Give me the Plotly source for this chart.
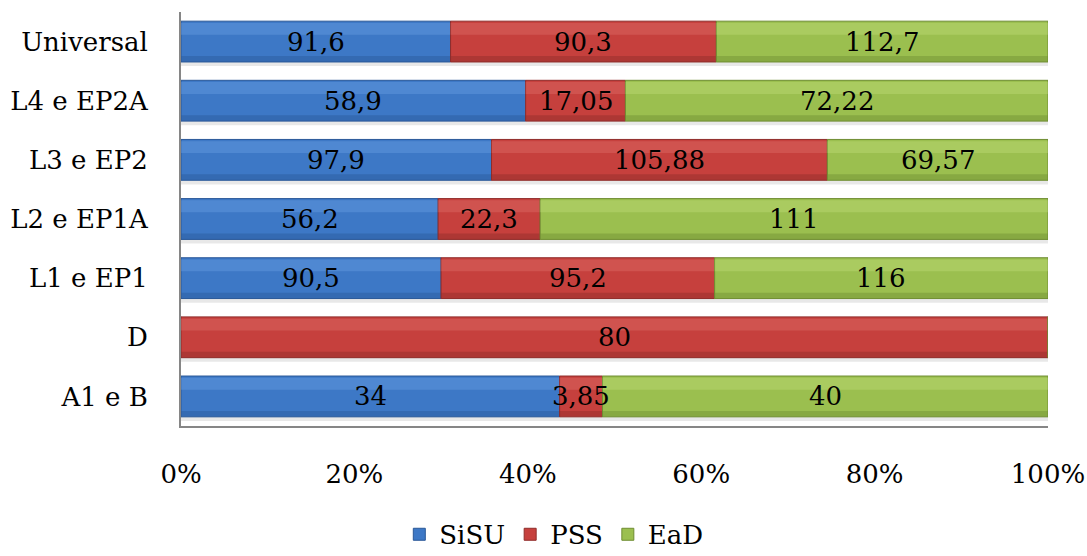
import plotly.graph_objects as go

# Categories listed bottom to top
categories = ["A1 e B", "D", "L1 e EP1", "L2 e EP1A", "L3 e EP2", "L4 e EP2A", "Universal"]
sisu = [34, 0, 90.5, 56.2, 97.9, 58.9, 91.6]
pss = [3.85, 80, 95.2, 22.3, 105.88, 17.05, 90.3]
ead = [40, 0, 116, 111, 69.57, 72.22, 112.7]

# name, values, body colour, top highlight, bottom shade
series = [
    ("SiSU", sisu, "#3d78c6", "#72a6e8", "#2a5898"),
    ("PSS", pss, "#c6403d", "#e27774", "#8f2c2a"),
    ("EaD", ead, "#9bbf4f", "#c5e282", "#6f8d32"),
]

totals = [a + b + c for a, b, c in zip(sisu, pss, ead)]

FONT = "DejaVu Serif"
FS = 26
BAR_W = 0.69
HALF = BAR_W / 2


def fmt(v):
    return f"{v:g}".replace(".", ",")


fig = go.Figure()

# soft shadow under each full-width bar
fig.add_trace(go.Bar(
    y=categories, x=[100] * len(categories), base=[0] * len(categories),
    orientation="h", width=0.07, offset=-HALF - 0.07,
    marker=dict(color="rgba(0,0,0,0.09)", line=dict(width=0)),
    showlegend=False, hoverinfo="skip",
))

starts = [0.0] * len(categories)
annotations = []
for name, vals, color, light, dark in series:
    share = [v / t * 100 for v, t in zip(vals, totals)]
    base = list(starts)
    # main segment
    fig.add_trace(go.Bar(
        y=categories, x=share, base=base, name=name, orientation="h",
        width=BAR_W, offset=-HALF,
        marker=dict(color=color, line=dict(color=dark, width=1)),
        hoverinfo="skip",
    ))
    # glossy upper band
    fig.add_trace(go.Bar(
        y=categories, x=share, base=base, orientation="h",
        width=0.2, offset=HALF - 0.23,
        marker=dict(color=light, opacity=0.35, line=dict(width=0)),
        showlegend=False, hoverinfo="skip",
    ))
    # darker lower band
    fig.add_trace(go.Bar(
        y=categories, x=share, base=base, orientation="h",
        width=0.1, offset=-HALF,
        marker=dict(color=dark, opacity=0.45, line=dict(width=0)),
        showlegend=False, hoverinfo="skip",
    ))
    # value labels centred in each segment
    for i, (cat, v, s) in enumerate(zip(categories, vals, share)):
        if v > 0:
            annotations.append(dict(
                x=starts[i] + s / 2, y=cat, xref="x", yref="y",
                text=fmt(v), showarrow=False,
                font=dict(family=FONT, size=FS, color="black"),
            ))
        starts[i] += s

fig.update_layout(
    barmode="overlay",
    width=1087,
    height=556,
    margin=dict(l=181, r=39, t=12, b=130, autoexpand=False),
    paper_bgcolor="white",
    plot_bgcolor="white",
    font=dict(family=FONT, size=FS, color="black"),
    annotations=annotations,
    showlegend=True,
    legend=dict(
        orientation="h",
        x=0.43,
        xanchor="center",
        y=-0.205,
        yanchor="top",
        font=dict(family=FONT, size=FS, color="black"),
        itemwidth=30,
        tracegroupgap=0,
        traceorder="normal",
    ),
    xaxis=dict(
        range=[0, 100],
        tickvals=[0, 20, 40, 60, 80, 100],
        ticktext=["0%", "20%", "40%", "60%", "80%", "100%"],
        showgrid=False,
        zeroline=False,
        showline=True,
        linecolor="#868686",
        linewidth=2,
        ticks="",
        ticklabelstandoff=24,
        automargin=False,
        tickfont=dict(family=FONT, size=FS),
    ),
    yaxis=dict(
        range=[-0.5, 6.5],
        showgrid=False,
        zeroline=False,
        showline=True,
        linecolor="#868686",
        linewidth=2,
        ticks="",
        ticklabelstandoff=26,
        automargin=False,
        tickfont=dict(family=FONT, size=FS),
    ),
)

fig.write_html("out.html")
